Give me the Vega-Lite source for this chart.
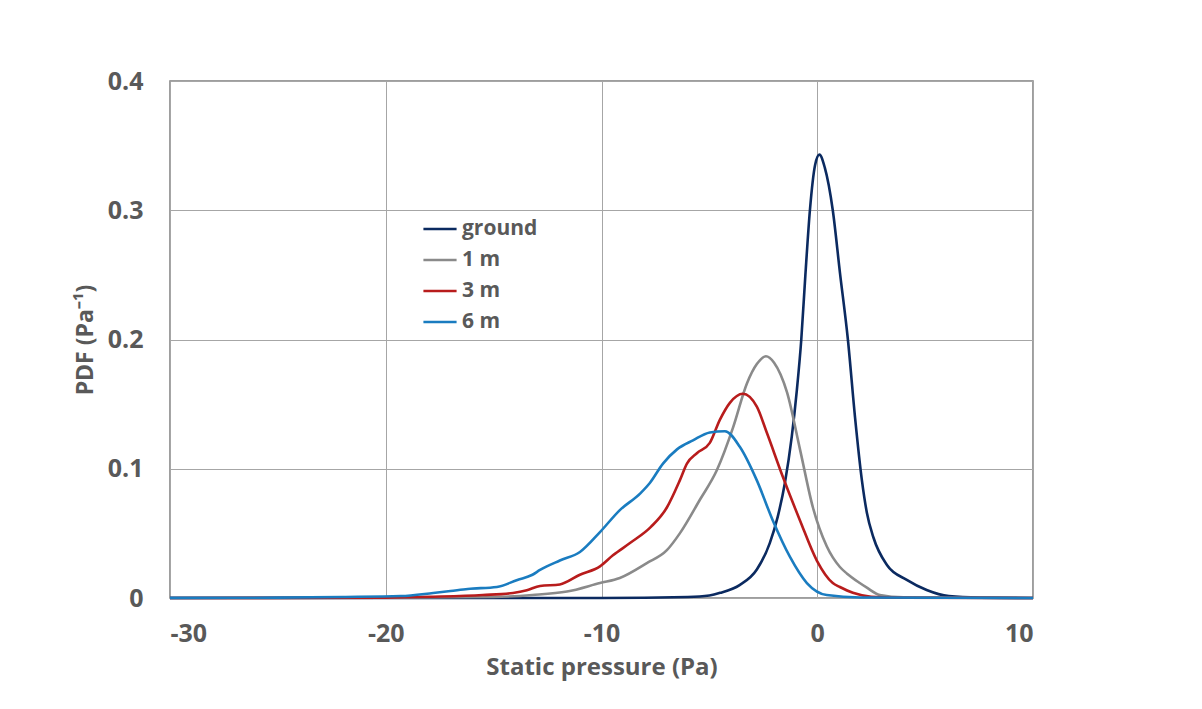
{
  "$schema": "https://vega.github.io/schema/vega-lite/v6.json",
  "width": 863,
  "height": 517,
  "autosize": "none",
  "padding": {"left": 170, "top": 81, "right": 169, "bottom": 111},
  "background": "white",
  "config": {
    "view": {"stroke": "#7f7f7f", "strokeWidth": 1.5},
    "font": "Open Sans"
  },
  "data": {
    "values": [
      {"s": "ground", "x": -30, "y": 0},
      {"s": "ground", "x": -10, "y": 0},
      {"s": "ground", "x": -6, "y": 0.0008},
      {"s": "ground", "x": -5, "y": 0.002},
      {"s": "ground", "x": -4.5, "y": 0.004},
      {"s": "ground", "x": -3.6, "y": 0.010},
      {"s": "ground", "x": -2.8, "y": 0.022},
      {"s": "ground", "x": -2.2, "y": 0.0425},
      {"s": "ground", "x": -1.83, "y": 0.063},
      {"s": "ground", "x": -1.5, "y": 0.089},
      {"s": "ground", "x": -1.18, "y": 0.125},
      {"s": "ground", "x": -0.95, "y": 0.16},
      {"s": "ground", "x": -0.74, "y": 0.2},
      {"s": "ground", "x": -0.55, "y": 0.25},
      {"s": "ground", "x": -0.34, "y": 0.30},
      {"s": "ground", "x": -0.1, "y": 0.335},
      {"s": "ground", "x": 0.1, "y": 0.343},
      {"s": "ground", "x": 0.35, "y": 0.333},
      {"s": "ground", "x": 0.72, "y": 0.30},
      {"s": "ground", "x": 1.05, "y": 0.252},
      {"s": "ground", "x": 1.42, "y": 0.2},
      {"s": "ground", "x": 1.75, "y": 0.14},
      {"s": "ground", "x": 2.07, "y": 0.091},
      {"s": "ground", "x": 2.3, "y": 0.066},
      {"s": "ground", "x": 2.6, "y": 0.047},
      {"s": "ground", "x": 3.23, "y": 0.0255},
      {"s": "ground", "x": 4.15, "y": 0.014},
      {"s": "ground", "x": 5.07, "y": 0.0062},
      {"s": "ground", "x": 6.1, "y": 0.0015},
      {"s": "ground", "x": 7.5, "y": 0.0003},
      {"s": "ground", "x": 10, "y": 0},

      {"s": "1 m", "x": -30, "y": 0},
      {"s": "1 m", "x": -20, "y": 0.0002},
      {"s": "1 m", "x": -15, "y": 0.0008},
      {"s": "1 m", "x": -13.2, "y": 0.0023},
      {"s": "1 m", "x": -11.6, "y": 0.005},
      {"s": "1 m", "x": -10.07, "y": 0.0116},
      {"s": "1 m", "x": -9.15, "y": 0.0155},
      {"s": "1 m", "x": -7.9, "y": 0.027},
      {"s": "1 m", "x": -6.97, "y": 0.037},
      {"s": "1 m", "x": -6.37, "y": 0.050},
      {"s": "1 m", "x": -5.44, "y": 0.076},
      {"s": "1 m", "x": -4.65, "y": 0.099},
      {"s": "1 m", "x": -3.9, "y": 0.132},
      {"s": "1 m", "x": -3.26, "y": 0.166},
      {"s": "1 m", "x": -2.8, "y": 0.181},
      {"s": "1 m", "x": -2.38, "y": 0.187},
      {"s": "1 m", "x": -2.0, "y": 0.182},
      {"s": "1 m", "x": -1.4, "y": 0.159},
      {"s": "1 m", "x": -0.8, "y": 0.115},
      {"s": "1 m", "x": -0.2, "y": 0.070},
      {"s": "1 m", "x": 0.44, "y": 0.040},
      {"s": "1 m", "x": 1.05, "y": 0.024},
      {"s": "1 m", "x": 1.37, "y": 0.019},
      {"s": "1 m", "x": 1.97, "y": 0.0116},
      {"s": "1 m", "x": 2.3, "y": 0.008},
      {"s": "1 m", "x": 2.9, "y": 0.0023},
      {"s": "1 m", "x": 4, "y": 0.0005},
      {"s": "1 m", "x": 10, "y": 0},

      {"s": "3 m", "x": -30, "y": 0},
      {"s": "3 m", "x": -20, "y": 0.0003},
      {"s": "3 m", "x": -17.8, "y": 0.001},
      {"s": "3 m", "x": -15.5, "y": 0.0023},
      {"s": "3 m", "x": -14.1, "y": 0.0039},
      {"s": "3 m", "x": -13.46, "y": 0.006},
      {"s": "3 m", "x": -12.85, "y": 0.0093},
      {"s": "3 m", "x": -11.93, "y": 0.0105},
      {"s": "3 m", "x": -11.0, "y": 0.018},
      {"s": "3 m", "x": -10.07, "y": 0.0245},
      {"s": "3 m", "x": -9.47, "y": 0.033},
      {"s": "3 m", "x": -8.68, "y": 0.0425},
      {"s": "3 m", "x": -7.71, "y": 0.055},
      {"s": "3 m", "x": -6.97, "y": 0.070},
      {"s": "3 m", "x": -6.37, "y": 0.091},
      {"s": "3 m", "x": -6.04, "y": 0.104},
      {"s": "3 m", "x": -5.58, "y": 0.112},
      {"s": "3 m", "x": -4.98, "y": 0.12},
      {"s": "3 m", "x": -4.51, "y": 0.138},
      {"s": "3 m", "x": -4.05, "y": 0.151},
      {"s": "3 m", "x": -3.45, "y": 0.158},
      {"s": "3 m", "x": -2.8, "y": 0.148},
      {"s": "3 m", "x": -2.34, "y": 0.128},
      {"s": "3 m", "x": -1.6, "y": 0.094},
      {"s": "3 m", "x": -0.8, "y": 0.060},
      {"s": "3 m", "x": -0.02, "y": 0.029},
      {"s": "3 m", "x": 0.72, "y": 0.0116},
      {"s": "3 m", "x": 1.05, "y": 0.0085},
      {"s": "3 m", "x": 1.65, "y": 0.004},
      {"s": "3 m", "x": 2.5, "y": 0.001},
      {"s": "3 m", "x": 4, "y": 0.0002},
      {"s": "3 m", "x": 10, "y": 0},

      {"s": "6 m", "x": -30, "y": 0.0001},
      {"s": "6 m", "x": -25, "y": 0.0003},
      {"s": "6 m", "x": -22, "y": 0.0008},
      {"s": "6 m", "x": -19.3, "y": 0.0015},
      {"s": "6 m", "x": -17.8, "y": 0.0039},
      {"s": "6 m", "x": -17.0, "y": 0.0054},
      {"s": "6 m", "x": -16.2, "y": 0.007},
      {"s": "6 m", "x": -14.85, "y": 0.0085},
      {"s": "6 m", "x": -13.9, "y": 0.014},
      {"s": "6 m", "x": -13.2, "y": 0.018},
      {"s": "6 m", "x": -12.85, "y": 0.0217},
      {"s": "6 m", "x": -11.93, "y": 0.029},
      {"s": "6 m", "x": -11.0, "y": 0.0356},
      {"s": "6 m", "x": -10.07, "y": 0.051},
      {"s": "6 m", "x": -9.15, "y": 0.068},
      {"s": "6 m", "x": -8.2, "y": 0.081},
      {"s": "6 m", "x": -7.76, "y": 0.089},
      {"s": "6 m", "x": -7.15, "y": 0.104},
      {"s": "6 m", "x": -6.5, "y": 0.115},
      {"s": "6 m", "x": -5.76, "y": 0.122},
      {"s": "6 m", "x": -4.98, "y": 0.128},
      {"s": "6 m", "x": -4.28, "y": 0.129},
      {"s": "6 m", "x": -3.59, "y": 0.117},
      {"s": "6 m", "x": -2.8, "y": 0.091},
      {"s": "6 m", "x": -2.06, "y": 0.060},
      {"s": "6 m", "x": -1.27, "y": 0.032},
      {"s": "6 m", "x": -0.48, "y": 0.0116},
      {"s": "6 m", "x": 0.44, "y": 0.0023},
      {"s": "6 m", "x": 2, "y": 0.0004},
      {"s": "6 m", "x": 10, "y": 0}
    ]
  },
  "mark": {"type": "line", "interpolate": "monotone", "strokeWidth": 2.6},
  "encoding": {
    "x": {
      "field": "x",
      "type": "quantitative",
      "scale": {"domain": [-30, 10], "nice": false},
      "axis": {
        "values": [-30, -20, -10, 0, 10],
        "labelExpr": "'' + datum.value",
        "title": "Static pressure (Pa)",
        "titleFont": "Open Sans",
        "titleFontSize": 24,
        "titleFontWeight": "bold",
        "titleColor": "#595959",
        "titlePadding": 9,
        "labelFont": "Open Sans",
        "labelFontSize": 25,
        "labelFontWeight": "bold",
        "labelColor": "#595959",
        "labelPadding": 23,
        "ticks": false,
        "domain": false,
        "grid": true,
        "gridColor": "#a6a6a6",
        "gridWidth": 1
      }
    },
    "y": {
      "field": "y",
      "type": "quantitative",
      "scale": {"domain": [0, 0.4], "nice": false},
      "axis": {
        "values": [0, 0.1, 0.2, 0.3, 0.4],
        "labelExpr": "datum.value == 0 ? '0' : format(datum.value, '.1f')",
        "title": "PDF (Pa⁻¹)",
        "titleFont": "Open Sans",
        "titleFontSize": 23,
        "titleFontWeight": "bold",
        "titleColor": "#595959",
        "titlePadding": 10,
        "labelFont": "Open Sans",
        "labelFontSize": 25,
        "labelFontWeight": "bold",
        "labelColor": "#595959",
        "labelPadding": 27,
        "ticks": false,
        "domain": false,
        "grid": true,
        "gridColor": "#a6a6a6",
        "gridWidth": 1
      }
    },
    "color": {
      "field": "s",
      "type": "nominal",
      "sort": ["ground", "1 m", "3 m", "6 m"],
      "scale": {
        "domain": ["ground", "1 m", "3 m", "6 m"],
        "range": ["#0b2a60", "#8a8a8a", "#b81c1c", "#1a7cc0"]
      },
      "legend": {
        "title": null,
        "orient": "none",
        "legendX": 252,
        "legendY": 130,
        "symbolType": "stroke",
        "symbolSize": 1100,
        "symbolStrokeWidth": 2.6,
        "labelFont": "Open Sans",
        "labelFontSize": 21,
        "labelFontWeight": "bold",
        "labelColor": "#595959",
        "labelOffset": 4,
        "rowPadding": 3,
        "symbolOffset": 0
      }
    }
  }
}
